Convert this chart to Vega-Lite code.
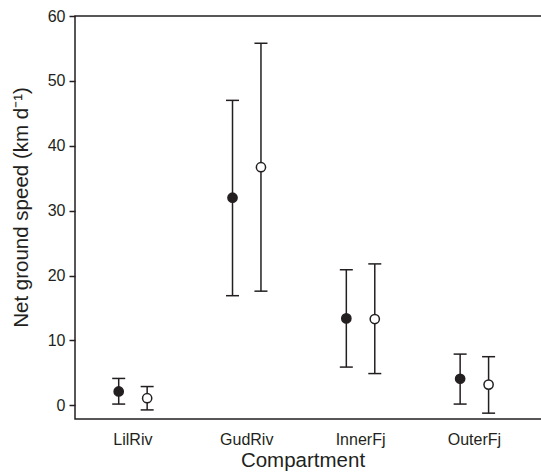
{
  "$schema": "https://vega.github.io/schema/vega-lite/v6.json",
  "width": 468,
  "height": 403,
  "autosize": {"type": "none"},
  "padding": {"left": 75, "top": 16, "right": 0, "bottom": 55},
  "background": "white",
  "config": {
    "font": "Liberation Sans",
    "view": {"stroke": "#231f20", "strokeWidth": 1.5},
    "axis": {"domain": false, "labelColor": "#231f20", "titleColor": "#231f20", "labelFontWeight": "normal", "titleFontWeight": "normal"}
  },
  "data": {
    "values": [
      {"compartment": "LilRiv", "group": "1", "mean": 2.15, "lower": 0.2, "upper": 4.15},
      {"compartment": "LilRiv", "group": "2", "mean": 1.1, "lower": -0.7, "upper": 2.9},
      {"compartment": "GudRiv", "group": "1", "mean": 32.0, "lower": 16.9, "upper": 47.0},
      {"compartment": "GudRiv", "group": "2", "mean": 36.7, "lower": 17.6, "upper": 55.8},
      {"compartment": "InnerFj", "group": "1", "mean": 13.4, "lower": 5.9, "upper": 20.9},
      {"compartment": "InnerFj", "group": "2", "mean": 13.3, "lower": 4.9, "upper": 21.8},
      {"compartment": "OuterFj", "group": "1", "mean": 4.1, "lower": 0.2, "upper": 7.9},
      {"compartment": "OuterFj", "group": "2", "mean": 3.2, "lower": -1.2, "upper": 7.5}
    ]
  },
  "encoding": {
    "x": {
      "field": "compartment",
      "type": "nominal",
      "sort": ["LilRiv", "GudRiv", "InnerFj", "OuterFj"],
      "scale": {"paddingInner": 0, "paddingOuter": 0.056, "align": 0.08},
      "axis": {"title": "Compartment", "labelAngle": 0, "ticks": false, "labelPadding": 12, "labelFontSize": 16, "titleFontSize": 20.5, "titlePadding": 3, "titleX": 227.5}
    },
    "xOffset": {"field": "group", "type": "nominal", "scale": {"paddingOuter": 1.04, "paddingInner": 0}}
  },
  "layer": [
    {
      "mark": {"type": "rule", "color": "#231f20", "strokeWidth": 1.5},
      "encoding": {
        "y": {
          "field": "lower",
          "type": "quantitative",
          "scale": {"domain": [-2.1, 60], "nice": false, "zero": false},
          "axis": {"title": "Net ground speed (km d\u207b\u00b9)", "values": [0, 10, 20, 30, 40, 50, 60], "tickSize": 6, "tickColor": "#231f20", "tickWidth": 1.5, "labelPadding": 4, "labelFontSize": 16, "titleFontSize": 20.5, "titlePadding": 16, "titleY": 191, "grid": false}
        },
        "y2": {"field": "upper"}
      }
    },
    {
      "mark": {"type": "tick", "color": "#231f20", "size": 13, "thickness": 1.5, "opacity": 1},
      "encoding": {"y": {"field": "upper", "type": "quantitative"}}
    },
    {
      "mark": {"type": "tick", "color": "#231f20", "size": 13, "thickness": 1.5, "opacity": 1},
      "encoding": {"y": {"field": "lower", "type": "quantitative"}}
    },
    {
      "mark": {"type": "point", "filled": true, "size": 85, "stroke": "#231f20", "strokeWidth": 1.5, "opacity": 1},
      "encoding": {
        "y": {"field": "mean", "type": "quantitative"},
        "fill": {"field": "group", "type": "nominal", "scale": {"domain": ["1", "2"], "range": ["#231f20", "white"]}, "legend": null}
      }
    }
  ]
}
